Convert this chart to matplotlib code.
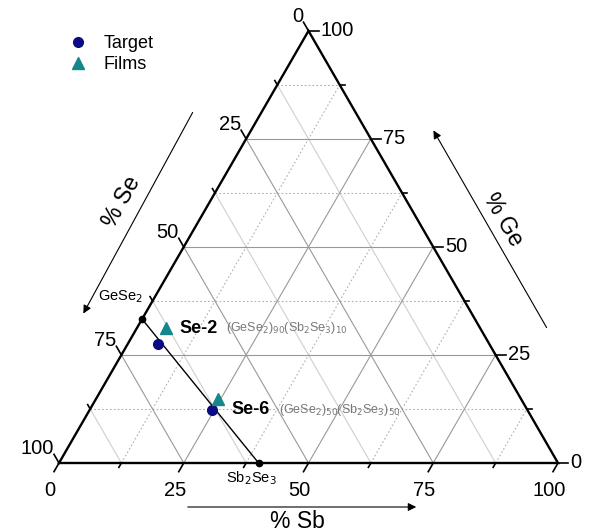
import numpy as np
import matplotlib.pyplot as plt

plt.rcParams['font.family'] = ['Liberation Sans', 'DejaVu Sans']

# compositions in at.% (Sb, Ge); Se = 100 - Sb - Ge
target_sb = [6.0, 24.5]
target_ge = [27.5, 12.3]
film_sb = [5.8, 24.5]
film_ge = [31.2, 14.8]
sample_names = ['Se-2', 'Se-6']
sample_formulas = [r'(GeSe$_2$)$_{90}$(Sb$_2$Se$_3$)$_{10}$',
                   r'(GeSe$_2$)$_{50}$(Sb$_2$Se$_3$)$_{50}$']
tie_sb = [0.0, 40.0]      # GeSe2 -> Sb2Se3
tie_ge = [33.3, 0.0]
tick_vals = [0, 25, 50, 75, 100]
minor_vals = [12.5, 37.5, 62.5, 87.5]

H = np.sqrt(3) / 2
PX = 1 / 4.99  # data units per pixel


def tern(sb, ge):
    sb = np.asarray(sb, float)
    ge = np.asarray(ge, float)
    return sb + ge / 2, ge * H


fig = plt.figure(figsize=(5.89, 5.31), dpi=100)
ax = fig.add_axes([0, 0, 1, 1])
ax.set_xlim(-59 * PX, (589 - 59) * PX)
ax.set_ylim(-68 * PX, (531 - 68) * PX)
ax.axis('off')

# grid
for v in minor_vals + [25, 50, 75]:
    major = v in (25, 50, 75)
    dot = dict(color='#999999', lw=0.8) if major else dict(color='#b0b0b0', lw=0.8, ls=(0, (1.5, 2)))
    sol = dict(color='#999999', lw=0.8) if major else dict(color='#cfcfcf', lw=0.8)
    x, y = tern([0, 100 - v], [v, v])          # const Ge
    ax.plot(x, y, **dot)
    x, y = tern([v, v], [0, 100 - v])          # const Sb
    ax.plot(x, y, **dot)
    x, y = tern([100 - v, 0], [0, 100 - v])    # const Se
    ax.plot(x, y, **sol)

# frame
x, y = tern([0, 100, 0, 0], [0, 0, 100, 0])
ax.plot(x, y, color='black', lw=1.7, solid_joinstyle='miter')

# ticks
for v in tick_vals + minor_vals:
    L = 10 * PX if v in tick_vals else 5 * PX
    # bottom (Sb)
    x0, y0 = tern(v, 0)
    ax.plot([x0, x0 - 0.5 * L], [y0, y0 - H * L], color='black', lw=1.2)
    # right (Ge)
    x0, y0 = tern(100 - v, v)
    ax.plot([x0, x0 + L], [y0, y0], color='black', lw=1.2)
    # left (Se)
    x0, y0 = tern(0, 100 - v)
    ax.plot([x0, x0 - 0.5 * L], [y0, y0 + H * L], color='black', lw=1.2)

for v in tick_vals:
    x0, y0 = tern(v, 0)
    ax.text(x0 - 9 * PX, y0 - 18 * PX, str(v), ha='center', va='top', fontsize=14.5)
    x0, y0 = tern(100 - v, v)
    ax.text(x0 + 12 * PX, y0, str(v), ha='left', va='center', fontsize=14.5)
    x0, y0 = tern(0, 100 - v)
    ax.text(x0 - 5 * PX, y0 + 5 * PX, str(v), ha='right', va='bottom', fontsize=14.5)

# axis arrows and titles
def px(xp, yp):
    return ((xp - 59) * PX, (463 - yp) * PX)

ax.annotate('', xy=px(82, 316), xytext=px(194, 110),
            arrowprops=dict(arrowstyle='-|>', color='black', lw=0.8, mutation_scale=12))
ax.text(*px(122, 202), '% Se', rotation=61, ha='center', va='center', fontsize=16.5)
ax.annotate('', xy=px(432, 128), xytext=px(548, 330),
            arrowprops=dict(arrowstyle='-|>', color='black', lw=0.8, mutation_scale=12))
ax.text(*px(503, 220), '% Ge', rotation=-60, ha='center', va='center', fontsize=16.5)
ax.annotate('', xy=px(419, 507), xytext=px(185, 507),
            arrowprops=dict(arrowstyle='-|>', color='black', lw=0.8, mutation_scale=12))
ax.text(*px(297, 521), '% Sb', ha='center', va='center', fontsize=16.5)

# tie line GeSe2 - Sb2Se3
x, y = tern(tie_sb, tie_ge)
ax.plot(x, y, color='black', lw=1.0, zorder=4)
ax.plot(x, y, 'o', color='black', ms=4.5, zorder=5)
ax.text(x[0] - 22 * PX, y[0] + 22 * PX, r'GeSe$_2$', ha='center', va='center', fontsize=10.5)
ax.text(x[1] - 7 * PX, y[1] - 6 * PX, r'Sb$_2$Se$_3$', ha='center', va='top', fontsize=10.5)

# data
x, y = tern(target_sb, target_ge)
ax.plot(x, y, 'o', color='#0a0a85', ms=7, ls='none', zorder=6, label='Target')
xf, yf = tern(film_sb, film_ge)
ax.plot(xf, yf, '^', color='#15868a', ms=8, ls='none', zorder=6, label='Films')

for i, (name, form) in enumerate(zip(sample_names, sample_formulas)):
    xt = x[i] + (22 if i == 0 else 20) * PX
    yt = yf[i] if i == 0 else y[i]
    t = ax.text(xt, yt, name, ha='left', va='center', fontsize=13, fontweight='bold')
    ax.annotate(form, xy=(1, 0.5), xycoords=t, xytext=(6, 0), textcoords='offset points',
                ha='left', va='center', fontsize=9, color='#777777')

ax.legend(loc='upper left', bbox_to_anchor=(0.09, 0.965), frameon=False, fontsize=13,
          handlelength=1.0, handletextpad=0.9, labelspacing=0.25, numpoints=1)

fig.savefig('out.png', dpi=100)
